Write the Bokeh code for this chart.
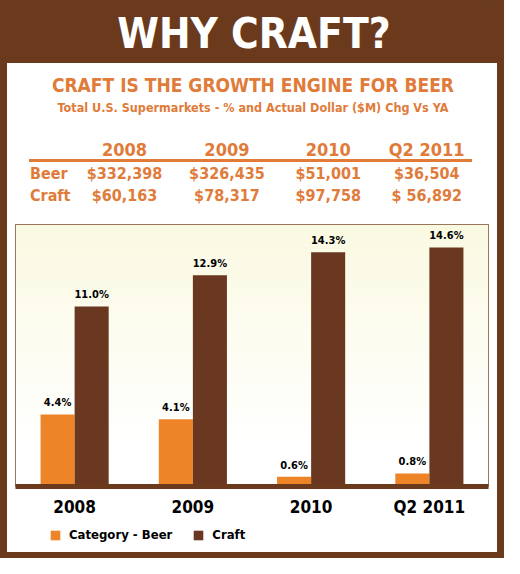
from bokeh.plotting import figure
from bokeh.layouts import column
from bokeh.models import ColumnDataSource, Range1d, FactorRange, BoxAnnotation, Legend, LegendItem
from bokeh.core.properties import value
from bokeh.transform import dodge
from bokeh.embed import file_html
from bokeh.resources import INLINE

# ---- data ----
periods = ["2008", "2009", "2010", "Q2 2011"]
beer_pct = [4.4, 4.1, 0.6, 0.8]
craft_pct = [11.0, 12.9, 14.3, 14.6]
beer_dollars = ["$332,398", "$326,435", "$51,001", "$36,504"]
craft_dollars = ["$60,163", "$78,317", "$97,758", "$ 56,892"]
row_names = ["Beer", "Craft"]
series_names = ["Category - Beer", "Craft"]
title_text = "WHY CRAFT?"
subtitle_text = "CRAFT IS THE GROWTH ENGINE FOR BEER"
subtitle2_text = "Total U.S. Supermarkets - % and Actual Dollar ($M) Chg Vs YA"

# ---- style ----
FONT = "'DejaVu Sans Condensed', 'Roboto Condensed', 'Liberation Sans Narrow', Roboto"
BROWN = "#6B3A1C"
CRAFT = "#6A3820"
BEER = "#EE8428"
ORANGE_TXT = "#E07B3A"
W = 490


def blank(h, bg):
    f = figure(width=W, height=h, output_backend="svg", toolbar_location=None,
               x_axis_type=None, y_axis_type=None, min_border=0,
               x_range=Range1d(0, W), y_range=Range1d(h, 0))
    f.outline_line_color = None
    f.background_fill_color = bg
    f.border_fill_color = bg
    f.grid.visible = False
    return f

# header band
hdr = blank(63, BROWN)
hdr.styles = {"background-color": BROWN}
hdr.text(x=[W / 2 + 2], y=[33], text=[title_text], text_color="white",
         text_font=value(FONT), text_font_style="bold", text_font_size="42px",
         text_align="center", text_baseline="middle")

# subtitle + table
tbl = blank(158, "white")
tbl.text(x=[W / 2 + 1], y=[21], text=[subtitle_text], text_color=ORANGE_TXT,
         text_font=value(FONT), text_font_style="bold", text_font_size="19px",
         text_align="center", text_baseline="middle")
tbl.text(x=[W / 2 + 1], y=[44], text=[subtitle2_text], text_color=ORANGE_TXT,
         text_font=value(FONT), text_font_style="bold", text_font_size="12.5px",
         text_align="center", text_baseline="middle")
col_x = [113, 219, 324, 426]
tbl.text(x=col_x, y=[86] * 4, text=periods, text_color=ORANGE_TXT,
         text_font=value(FONT), text_font_style="bold", text_font_size="18px",
         text_align="center", text_baseline="middle")
tbl.segment(x0=[14], y0=[97], x1=[473], y1=[97], line_color=ORANGE_TXT, line_width=3)
tbl.text(x=[15, 15], y=[110, 132], text=row_names, text_color=ORANGE_TXT,
         text_font=value(FONT), text_font_style="bold", text_font_size="16px",
         text_align="left", text_baseline="middle")
tbl.text(x=col_x, y=[110] * 4, text=beer_dollars, text_color=ORANGE_TXT,
         text_font=value(FONT), text_font_style="bold", text_font_size="16px",
         text_align="center", text_baseline="middle")
tbl.text(x=col_x, y=[132] * 4, text=craft_dollars, text_color=ORANGE_TXT,
         text_font=value(FONT), text_font_style="bold", text_font_size="16px",
         text_align="center", text_baseline="middle")

# chart
src = ColumnDataSource(dict(
    period=periods, beer=beer_pct, craft=craft_pct,
    beer_lbl=[f"{v:.1f}%" for v in beer_pct],
    craft_lbl=[f"{v:.1f}%" for v in craft_pct],
))
p = figure(width=W, height=300, output_backend="svg", toolbar_location=None,
           x_range=FactorRange(*periods, range_padding=0), y_range=Range1d(0, 16),
           min_border_left=8, min_border_right=9, min_border_top=3, min_border_bottom=35)
p.border_fill_color = "white"
p.background_fill_color = "white"
p.outline_line_color = "#7A4A2C"
p.outline_line_width = 1
p.grid.visible = False
p.yaxis.visible = False

# gradient background
top_c = (250, 249, 225)
n = 40
for i in range(n):
    t = i / (n - 1)
    y0 = 16 * (1 - (i + 1) / n)
    y1 = 16 * (1 - i / n)
    k = min(1.0, t / 0.85)
    c = tuple(int(round(top_c[j] + (255 - top_c[j]) * k)) for j in range(3))
    p.add_layout(BoxAnnotation(bottom=y0, top=y1, fill_color="#%02x%02x%02x" % c,
                               fill_alpha=1, line_color=None, level="underlay"))

bw = 0.288
rb = p.vbar(x=dodge("period", -bw / 2, range=p.x_range), top="beer", width=bw,
            source=src, color=BEER, line_color=None)
rc = p.vbar(x=dodge("period", bw / 2, range=p.x_range), top="craft", width=bw,
            source=src, color=CRAFT, line_color=None)
p.text(x=dodge("period", -bw / 2, range=p.x_range), y="beer", text="beer_lbl", source=src,
       y_offset=-5, text_align="center", text_baseline="bottom",
       text_font=value(FONT), text_font_style="bold", text_font_size="11px", text_color="black")
p.text(x=dodge("period", bw / 2, range=p.x_range), y="craft", text="craft_lbl", source=src,
       y_offset=-5, text_align="center", text_baseline="bottom",
       text_font=value(FONT), text_font_style="bold", text_font_size="11px", text_color="black")

xa = p.xaxis[0]
xa.axis_line_color = BROWN
xa.axis_line_width = 5
xa.major_tick_line_color = None
xa.minor_tick_line_color = None
xa.major_label_text_font = FONT
xa.major_label_text_font_style = "bold"
xa.major_label_text_font_size = "17px"
xa.major_label_text_color = "black"
xa.major_label_standoff = 4

# legend strip (swatch renderers sit outside the visible range)
lg = blank(31, "white")
lb = lg.rect(x=[-50], y=[-50], width=1, height=1, color=BEER, line_color=None)
lc = lg.rect(x=[-50], y=[-50], width=1, height=1, color=CRAFT, line_color=None)
legend = Legend(items=[LegendItem(label=series_names[0], renderers=[lb]),
                       LegendItem(label=series_names[1], renderers=[lc])],
                orientation="horizontal", location=(34, 10),
                glyph_width=12, glyph_height=12, label_standoff=8, spacing=20,
                padding=0, margin=0, border_line_color=None, background_fill_alpha=0,
                label_text_font=FONT, label_text_font_style="bold",
                label_text_font_size="13px", label_text_color="black")
lg.add_layout(legend)

lay = column(hdr, tbl, p, lg, spacing=0,
             styles={"background-color": "white",
                     "border-left": f"7px solid {BROWN}",
                     "border-right": f"7px solid {BROWN}",
                     "border-bottom": f"6px solid {BROWN}"})

open("out.html", "w").write(file_html(lay, INLINE))
